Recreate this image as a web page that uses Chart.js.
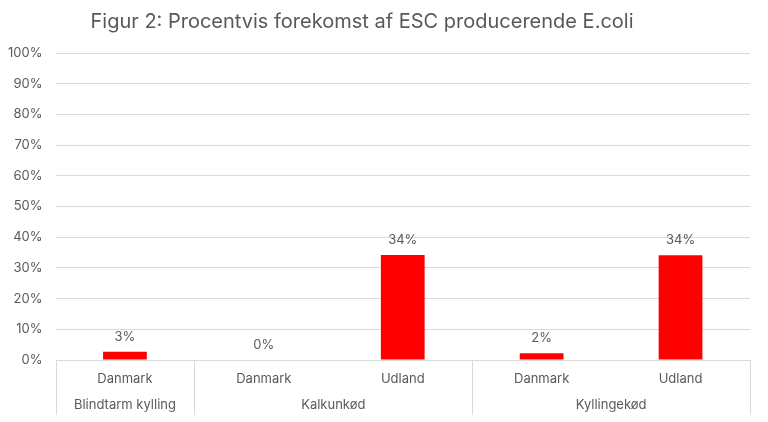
<!DOCTYPE html>
<html>
<head>
<meta charset="utf-8">
<script src="https://cdn.jsdelivr.net/npm/chart.js@4"></script>
<style>
  html, body { margin: 0; padding: 0; background: #fff; }
  #wrap { width: 768px; height: 422px; position: relative; }
</style>
</head>
<body>
<div id="wrap"><canvas id="chart"></canvas></div>
<script>
// Data
const categories = ['Danmark', 'Danmark', 'Udland', 'Danmark', 'Udland'];
const groups = ['Blindtarm kylling', 'Kalkunkød', 'Kyllingekød'];
const groupSizes = [1, 2, 2];
const values = [2.7, 0, 34.2, 2.2, 34.1];
const yTicks = [0, 10, 20, 30, 40, 50, 60, 70, 80, 90, 100];

const FONT = 'Inter, "Open Sans", sans-serif';
const GREY = '#595959';
const GRID = '#d9d9d9';

// Title, data labels and the two-level category axis
const extras = {
    id: 'extras',
    afterDraw(chart) {
        const ctx = chart.ctx;
        const area = chart.chartArea;
        const x = chart.scales.x;
        ctx.save();

        // title
        ctx.fillStyle = GREY;
        ctx.font = '20px ' + FONT;
        ctx.textAlign = 'center';
        ctx.textBaseline = 'middle';
        ctx.fillText('Figur 2: Procentvis forekomst af ESC producerende E.coli', 362, 22);

        // value labels
        ctx.font = '13px ' + FONT;
        chart.getDatasetMeta(0).data.forEach((bar, i) => {
            ctx.fillText(Math.round(values[i]) + '%', bar.x, bar.y - 15);
        });

        // group separators and group labels
        const bottom = 415;
        ctx.strokeStyle = GRID;
        ctx.lineWidth = 1;
        const edge = (i) => {
            if (i <= 0) return area.left;
            if (i >= categories.length) return area.right;
            return (x.getPixelForValue(i - 1) + x.getPixelForValue(i)) / 2;
        };
        let start = 0;
        const lines = [edge(0)];
        groups.forEach((g, gi) => {
            const end = start + groupSizes[gi];
            const l = edge(start), r = edge(end);
            lines.push(r);
            ctx.fillText(g, (l + r) / 2, 405);
            start = end;
        });
        ctx.beginPath();
        lines.forEach((lx) => {
            const px = Math.round(lx) + 0.5;
            ctx.moveTo(px, area.bottom);
            ctx.lineTo(px, bottom);
        });
        ctx.stroke();
        ctx.restore();
    }
};

new Chart(document.getElementById('chart'), {
    type: 'bar',
    data: {
        labels: categories,
        datasets: [{
            data: values,
            backgroundColor: '#ff0000',
            borderWidth: 0,
            barPercentage: 0.9,
            categoryPercentage: 0.35
        }]
    },
    options: {
        responsive: true,
        maintainAspectRatio: false,
        animation: false,
        layout: { padding: { top: 53, right: 18, left: 0, bottom: 0 } },
        plugins: {
            legend: { display: false },
            tooltip: { enabled: false }
        },
        scales: {
            x: {
                grid: { display: false },
                border: { display: false },
                ticks: { color: GREY, font: { size: 13, family: FONT }, padding: 3, maxRotation: 0 },
                afterFit(scale) { scale.height = 62; }
            },
            y: {
                min: 0,
                max: 100,
                afterBuildTicks(scale) { scale.ticks = yTicks.map(v => ({ value: v })); },
                grid: { color: GRID, drawTicks: false },
                border: { display: false },
                ticks: {
                    color: GREY,
                    font: { size: 13, family: FONT },
                    padding: 13,
                    callback: (v) => v + '%'
                },
                afterFit(scale) { scale.width = 55.5; }
            }
        }
    },
    plugins: [extras]
});
</script>
</body>
</html>
